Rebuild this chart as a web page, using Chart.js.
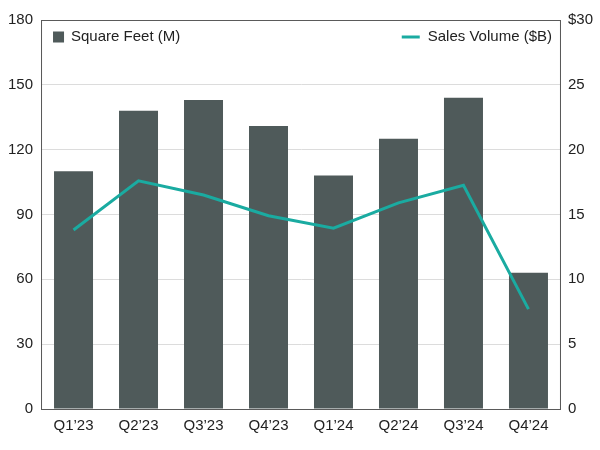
<!DOCTYPE html>
<html>
<head>
<meta charset="utf-8">
<script src="https://cdn.jsdelivr.net/npm/chart.js@4"></script>
<style>
  html, body { margin: 0; padding: 0; background: #fff; }
  #wrap { width: 600px; height: 450px; }
</style>
</head>
<body>
<div id="wrap"><canvas id="grafico"></canvas></div>
<script>
// datos
const trimestres = ["Q1\u201923", "Q2\u201923", "Q3\u201923", "Q4\u201923", "Q1\u201924", "Q2\u201924", "Q3\u201924", "Q4\u201924"];
const pies2 = [110, 138, 143, 131, 108, 125, 144, 63];
const ventas = [13.8, 17.6, 16.5, 14.9, 13.95, 15.9, 17.25, 7.7];
const ticksIzq = [0, 30, 60, 90, 120, 150, 180];
const ticksDer = [0, 5, 10, 15, 20, 25, 30];

const gris = '#4f5a5a';
const verde = '#1aaba1';
const fuente = "'Liberation Sans', Arial, sans-serif";

// marco del area y leyenda dentro del grafico
const marcoYLeyenda = {
    id: 'marcoYLeyenda',
    afterDraw(chart) {
        const { ctx, chartArea: a } = chart;
        ctx.save();
        ctx.strokeStyle = '#5a5a5a';
        ctx.lineWidth = 1;
        ctx.strokeRect(a.left + 0.5, a.top + 0.5, a.right - a.left - 1, a.bottom - a.top);

        ctx.font = '15px ' + fuente;
        ctx.textBaseline = 'middle';
        const y = a.top + 17;
        const ds = chart.data.datasets;
        // barras
        ctx.fillStyle = ds[0].backgroundColor;
        ctx.fillRect(a.left + 12, y - 5.5, 11, 11);
        ctx.fillStyle = '#222';
        ctx.textAlign = 'left';
        ctx.fillText(ds[0].label, a.left + 30, y);
        // linea
        ctx.textAlign = 'right';
        const tx = a.right - 9;
        const w = ctx.measureText(ds[1].label).width;
        ctx.fillText(ds[1].label, tx, y);
        ctx.strokeStyle = ds[1].borderColor;
        ctx.lineWidth = 3;
        ctx.beginPath();
        ctx.moveTo(tx - w - 26, y);
        ctx.lineTo(tx - w - 8, y);
        ctx.stroke();
        ctx.restore();
    }
};

new Chart(document.getElementById('grafico'), {
    type: 'bar',
    data: {
        labels: trimestres,
        datasets: [
            {
                label: 'Square Feet (M)',
                data: pies2,
                yAxisID: 'yIzq',
                backgroundColor: gris,
                barPercentage: 0.6,
                categoryPercentage: 1,
                order: 1
            },
            {
                type: 'line',
                label: 'Sales Volume ($B)',
                data: ventas,
                yAxisID: 'yDer',
                borderColor: verde,
                borderWidth: 3,
                pointRadius: 0,
                tension: 0,
                order: 0
            }
        ]
    },
    options: {
        responsive: true,
        maintainAspectRatio: false,
        animation: false,
        layout: { padding: { left: 0, right: 0, top: 20, bottom: 7 } },
        plugins: { legend: { display: false }, tooltip: { enabled: false } },
        scales: {
            x: {
                grid: { display: false, drawTicks: false },
                border: { color: '#5a5a5a' },
                ticks: { color: '#222', font: { family: fuente, size: 15 }, padding: 8 }
            },
            yIzq: {
                position: 'left',
                min: 0, max: 180,
                afterBuildTicks: s => { s.ticks = ticksIzq.map(v => ({ value: v })); },
                grid: { color: '#dcdcdc', drawTicks: false },
                border: { color: '#5a5a5a' },
                ticks: { color: '#222', font: { family: fuente, size: 15 }, padding: 8 }
            },
            yDer: {
                position: 'right',
                min: 0, max: 30,
                afterBuildTicks: s => { s.ticks = ticksDer.map(v => ({ value: v })); },
                grid: { display: false, drawTicks: false },
                border: { color: '#5a5a5a' },
                ticks: {
                    color: '#222', font: { family: fuente, size: 15 }, padding: 7,
                    callback: v => v === 30 ? '$30' : v
                }
            }
        }
    },
    plugins: [marcoYLeyenda]
});
</script>
</body>
</html>
